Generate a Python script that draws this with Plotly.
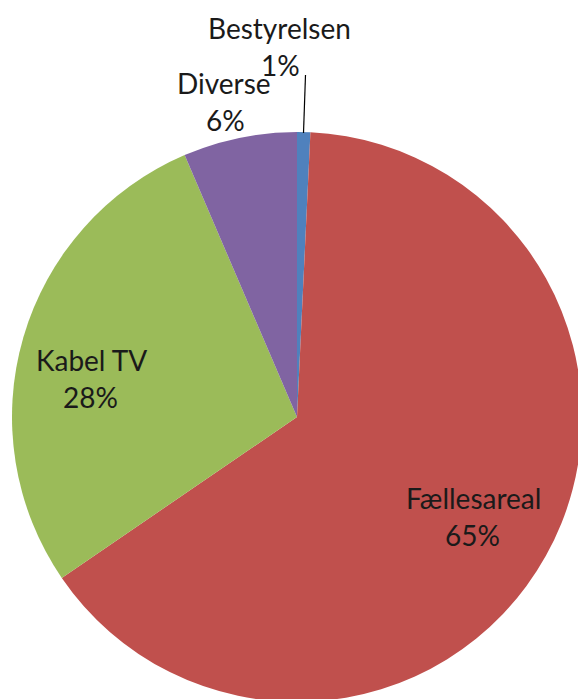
import plotly.graph_objects as go

labels = ["Bestyrelsen", "Fællesareal", "Kabel TV", "Diverse"]
values = [0.75, 64.7, 28.1, 6.45]
pct_labels = ["1%", "65%", "28%", "6%"]
colors = ["#4F81BD", "#C0504D", "#9BBB59", "#8064A2"]

W, H = 584, 704
FONT = "Lato"
FS = 28

fig = go.Figure(go.Pie(
    labels=labels, values=values, sort=False, direction="clockwise", rotation=0,
    marker=dict(colors=colors, line=dict(width=0)),
    textinfo="none", hoverinfo="label+percent", showlegend=False,
    domain=dict(x=[12 / W, 582 / W], y=[1 - 702 / H, 1 - 132 / H]),
))

# label positions in pixels (name line centre, pct line centre)
label_pos = {
    "Bestyrelsen": ((279, 28), (280, 65)),
    "Fællesareal": ((473, 498), (472, 535)),
    "Kabel TV": ((91, 360), (90, 397)),
    "Diverse": ((224, 83), (225, 120)),
}

annotations = []
for name, pct in zip(labels, pct_labels):
    (x1, y1), (x2, y2) = label_pos[name]
    for txt, (px, py) in ((name, (x1, y1)), (pct, (x2, y2))):
        annotations.append(dict(
            text=txt, x=px / W, y=1 - py / H, xref="paper", yref="paper",
            xanchor="center", yanchor="middle", showarrow=False,
            font=dict(family=FONT, size=FS, color="#1a1a1a"),
        ))

fig.update_layout(
    width=W, height=H, margin=dict(l=0, r=0, t=0, b=0),
    paper_bgcolor="white", plot_bgcolor="white",
    annotations=annotations,
    shapes=[dict(type="line", xref="paper", yref="paper",
                 x0=305.5 / W, y0=1 - 75 / H, x1=303.5 / W, y1=1 - 133 / H,
                 line=dict(color="#000000", width=1.2))],
)

fig.write_html("out.html", config={"displayModeBar": False}, post_script=(
    "document.body.style.margin='0';"
    "document.body.style.overflow='hidden';"
    "document.documentElement.style.overflow='hidden';"
))
